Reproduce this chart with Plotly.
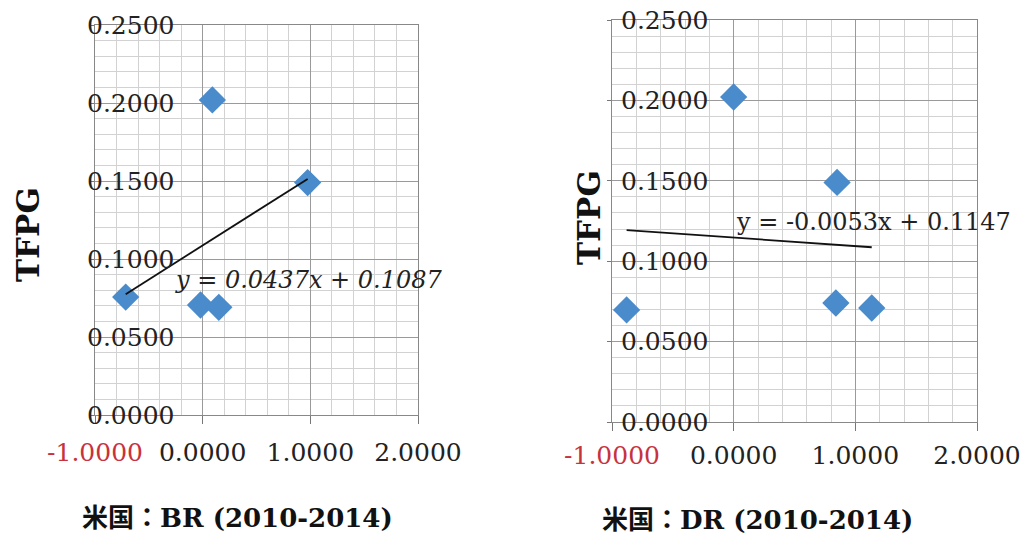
import plotly.graph_objects as go
import numpy as np

# ---- data ----
br_x = [0.09, 0.975, -0.715, -0.02, 0.15]
br_y = [0.2020, 0.1490, 0.0756, 0.0705, 0.0690]
br_slope, br_intercept = 0.0437, 0.1087
br_eq = "y = 0.0437x + 0.1087"

dr_x = [0.0, 0.85, -0.88, 0.84, 1.135]
dr_y = [0.2021, 0.1490, 0.0697, 0.0740, 0.0709]
dr_slope, dr_intercept = -0.0053, 0.1147
dr_eq = "y = -0.0053x + 0.1147"

x_ticks = [-1, 0, 1, 2]
x_ticktext = ["<span style='color:#c8323c'>-1.0000</span>", "0.0000", "1.0000", "2.0000"]
y_ticks = [0.0, 0.05, 0.10, 0.15, 0.20, 0.25]

y_title = "TFPG"
left_title = "米国：BR (2010-2014)"
right_title = "米国：DR (2010-2014)"

W, H = 1025, 535
SERIF = "DejaVu Serif, Noto Sans CJK JP"
MARK = "#4a8bcb"

def px(v):
    return v / W

def py(v):
    return 1 - v / H

fig = go.Figure()

for i, (xs, ys, m, b) in enumerate([(br_x, br_y, br_slope, br_intercept),
                                     (dr_x, dr_y, dr_slope, dr_intercept)]):
    xa = "x" if i == 0 else "x2"
    ya = "y" if i == 0 else "y2"
    fig.add_trace(go.Scatter(x=xs, y=ys, mode="markers", xaxis=xa, yaxis=ya,
                             marker=dict(symbol="diamond", size=21, color=MARK,
                                         line=dict(width=0)),
                             showlegend=False, cliponaxis=False))
    lx = np.array([min(xs), max(xs)])
    fig.add_trace(go.Scatter(x=lx, y=m * lx + b, mode="lines", xaxis=xa, yaxis=ya,
                             line=dict(color="#111111", width=1.8),
                             showlegend=False))

def xaxis(domain, anchor, standoff):
    return dict(domain=domain, anchor=anchor, range=[-1, 2], automargin=False,
                tickvals=x_ticks, ticktext=x_ticktext,
                tickfont=dict(family=SERIF, size=25, color="#222222"),
                ticks="outside", ticklen=8, tickcolor="#777777",
                ticklabelstandoff=standoff,
                showline=True, linecolor="#888888", linewidth=1, mirror=True,
                showgrid=True, gridcolor="#9a9a9a", gridwidth=1,
                minor=dict(dtick=0.2, tick0=-1, showgrid=True, gridcolor="#d2d2d2",
                           gridwidth=1),
                zeroline=False, fixedrange=True)

def yaxis(domain, anchor, standoff):
    return dict(domain=domain, anchor=anchor, range=[0, 0.25], automargin=False,
                tickvals=y_ticks, tickformat=".4f",
                tickfont=dict(family=SERIF, size=25, color="#222222"),
                ticklabelposition="inside", ticklabeloverflow="allow",
                ticklabelstandoff=standoff,
                ticks="outside", ticklen=4, tickcolor="#777777",
                showline=True, linecolor="#888888", linewidth=1, mirror=True,
                showgrid=True, gridcolor="#9a9a9a", gridwidth=1,
                minor=dict(dtick=0.01, tick0=0, showgrid=True, gridcolor="#d2d2d2",
                           gridwidth=1),
                zeroline=False, fixedrange=True)

fig.update_layout(
    width=W, height=H,
    margin=dict(l=0, r=0, t=0, b=0, autoexpand=False),
    paper_bgcolor="white", plot_bgcolor="white",
    xaxis=xaxis([px(95), px(418)], "y", 7),
    yaxis=yaxis([py(415), py(25)], "x", -6),
    xaxis2=xaxis([px(612), px(977)], "y2", 3),
    yaxis2=yaxis([py(422), py(20)], "x2", 11),
)

ann = []
# equations
ann.append(dict(x=-0.28, y=0.0865, xref="x", yref="y", text="<i>" + br_eq + "</i>",
                showarrow=False, xanchor="left", yanchor="middle",
                font=dict(family=SERIF, size=24, color="#222222")))
ann.append(dict(x=0.0, y=0.1244, xref="x2", yref="y2", text=dr_eq,
                showarrow=False, xanchor="left", yanchor="middle",
                font=dict(family=SERIF, size=24, color="#222222")))
# y titles
for xc, yc in [(28, 235), (589, 218)]:
    ann.append(dict(x=px(xc), y=py(yc), xref="paper", yref="paper", text="<b>" + y_title + "</b>",
                    textangle=-90, showarrow=False, xanchor="center", yanchor="middle",
                    font=dict(family=SERIF, size=31, color="#111111")))
# bottom titles
for xc, yc, t in [(237, 518, left_title), (757, 520, right_title)]:
    ann.append(dict(x=px(xc), y=py(yc), xref="paper", yref="paper", text="<b>" + t + "</b>",
                    showarrow=False, xanchor="center", yanchor="middle",
                    font=dict(family=SERIF, size=26, color="#111111")))
fig.update_layout(annotations=ann)

fig.write_html("out.html", config={"displayModeBar": False},
               post_script="document.body.style.margin='0';document.body.style.overflow='hidden';")
